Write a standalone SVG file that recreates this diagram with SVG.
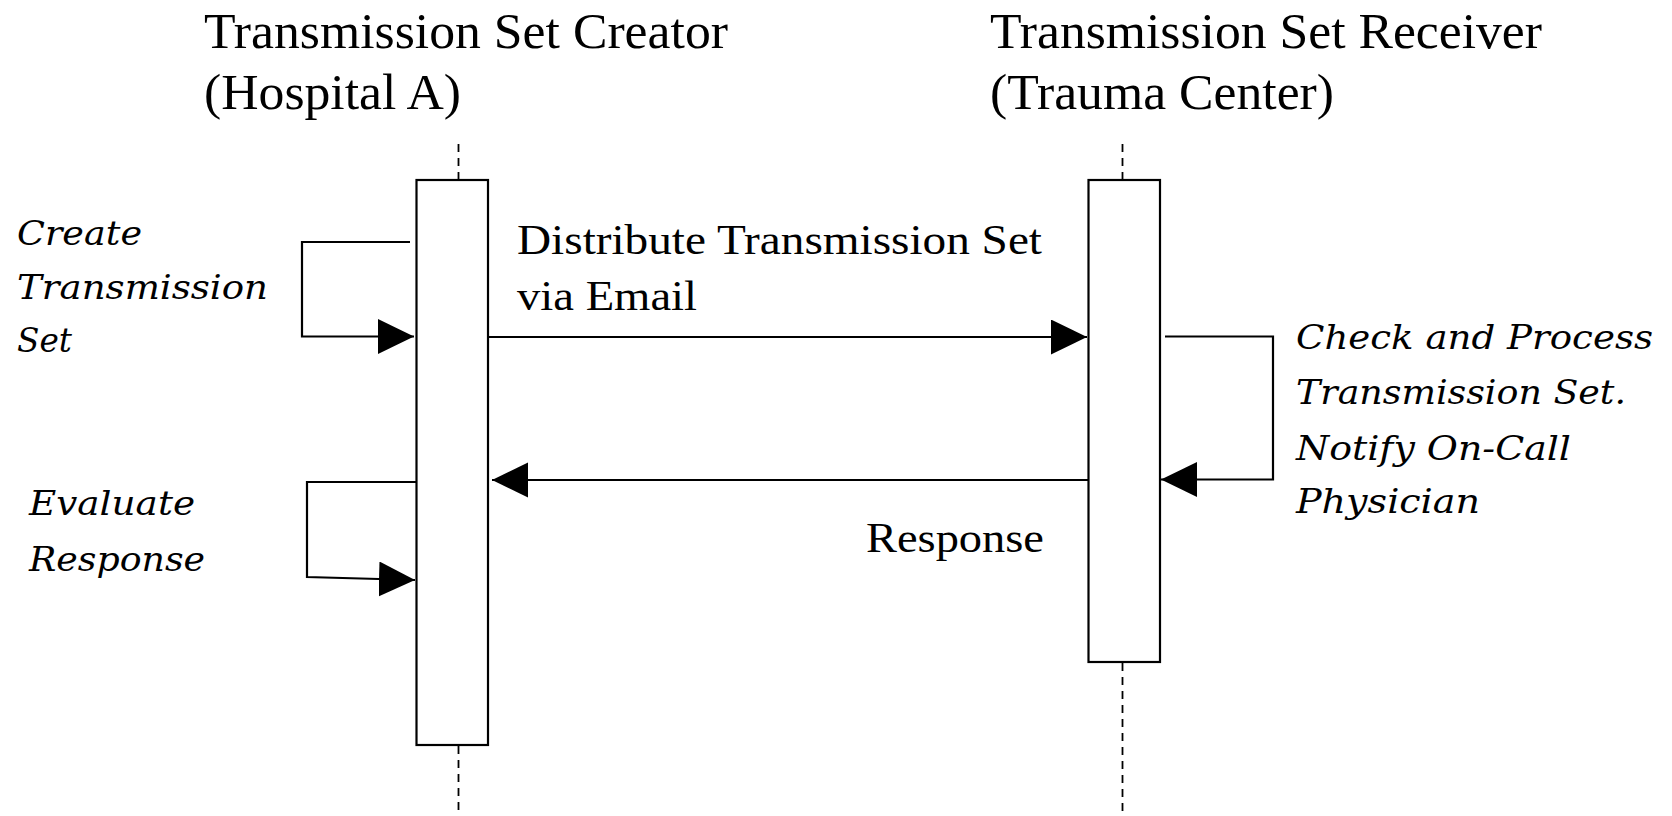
<svg xmlns="http://www.w3.org/2000/svg" width="1672" height="816" viewBox="0 0 1672 816">
<defs>
<style>
.title{font-family:"Liberation Serif","Times New Roman",serif;font-size:50px;fill:#000}
.msg{font-family:"Liberation Serif","Times New Roman",serif;font-size:42px;fill:#000}
.act{font-family:"DejaVu Serif",serif;font-style:italic;font-size:33px;fill:#000}
.box{fill:#fff;stroke:#000;stroke-width:2.2}
.life{stroke:#000;stroke-width:1.8;stroke-dasharray:8 6;fill:none}
.conn{stroke:#000;stroke-width:2.2;fill:none}
</style>
<marker id="ah" markerUnits="userSpaceOnUse" markerWidth="38" markerHeight="36" refX="36" refY="17.5" orient="auto">
<path d="M0,0 L36,17.5 L0,35 Z" fill="#000"/>
</marker>
</defs>
<rect width="1672" height="816" fill="#fff"/>

<g id="creator">
<text class="title" x="204" y="48" textLength="524" lengthAdjust="spacingAndGlyphs">Transmission Set Creator</text>
<text class="title" x="204" y="109" textLength="257" lengthAdjust="spacingAndGlyphs">(Hospital A)</text>
<line class="life" x1="458.5" y1="144" x2="458.5" y2="179"/>
<line class="life" x1="458.5" y1="746" x2="458.5" y2="816"/>
<rect class="box" x="416.5" y="180" width="71.5" height="565"/>
</g>

<g id="receiver">
<text class="title" x="990" y="48" textLength="552" lengthAdjust="spacingAndGlyphs">Transmission Set Receiver</text>
<text class="title" x="990" y="109" textLength="344" lengthAdjust="spacingAndGlyphs">(Trauma Center)</text>
<line class="life" x1="1122.5" y1="144" x2="1122.5" y2="179"/>
<line class="life" x1="1122.5" y1="663" x2="1122.5" y2="816"/>
<rect class="box" x="1088.5" y="180" width="71.5" height="482"/>
</g>

<g id="create-label">
<text class="act" x="17" y="245" textLength="125" lengthAdjust="spacingAndGlyphs">Create</text>
<text class="act" x="17" y="299" textLength="251" lengthAdjust="spacingAndGlyphs">Transmission</text>
<text class="act" x="17" y="352" textLength="55" lengthAdjust="spacingAndGlyphs">Set</text>
</g>

<g id="evaluate-label">
<text class="act" x="29" y="515" textLength="166" lengthAdjust="spacingAndGlyphs">Evaluate</text>
<text class="act" x="29" y="571" textLength="176" lengthAdjust="spacingAndGlyphs">Response</text>
</g>

<g id="check-label">
<text class="act" x="1296" y="349" textLength="357" lengthAdjust="spacingAndGlyphs">Check and Process</text>
<text class="act" x="1296" y="404" textLength="330" lengthAdjust="spacingAndGlyphs">Transmission Set.</text>
<text class="act" x="1296" y="460" textLength="275" lengthAdjust="spacingAndGlyphs">Notify On-Call</text>
<text class="act" x="1296" y="513" textLength="184" lengthAdjust="spacingAndGlyphs">Physician</text>
</g>

<g id="message-labels">
<text class="msg" x="517" y="254" textLength="525" lengthAdjust="spacingAndGlyphs">Distribute Transmission Set</text>
<text class="msg" x="517" y="310" textLength="180" lengthAdjust="spacingAndGlyphs">via Email</text>
<text class="msg" x="866" y="552" textLength="178" lengthAdjust="spacingAndGlyphs">Response</text>
</g>

<g id="connectors">
<polyline class="conn" points="410,242 302,242 302,336.5 414,336.5" marker-end="url(#ah)"/>
<line class="conn" x1="488" y1="337" x2="1087" y2="337" marker-end="url(#ah)"/>
<line class="conn" x1="1088" y1="480" x2="492" y2="480" marker-end="url(#ah)"/>
<polyline class="conn" points="1165,336.5 1273,336.5 1273,479.5 1161,479.5" marker-end="url(#ah)"/>
<polyline class="conn" points="416,482 307,482 307,577 415,580" marker-end="url(#ah)"/>
</g>
</svg>
